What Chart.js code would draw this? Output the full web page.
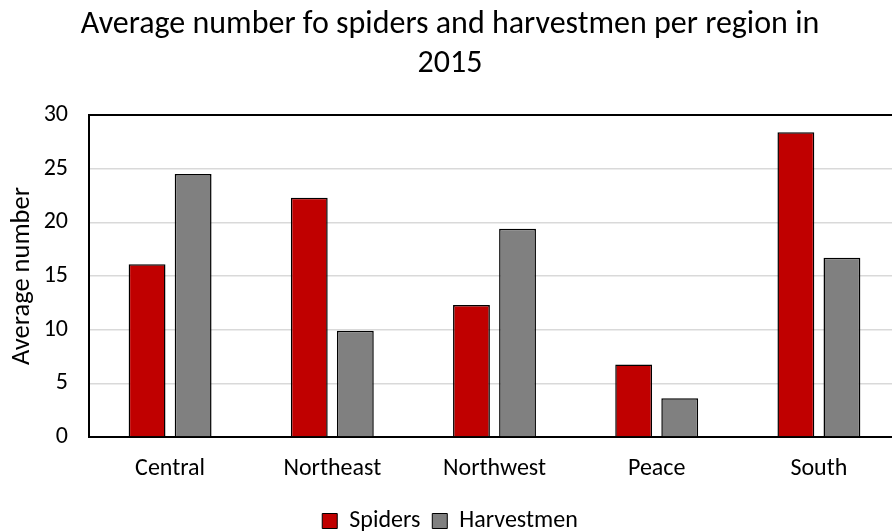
<!DOCTYPE html>
<html>
<head>
<meta charset="utf-8">
<script src="https://cdn.jsdelivr.net/npm/chart.js@4.4.0/dist/chart.umd.min.js"></script>
<style>
  html, body { margin: 0; padding: 0; background: #fff; overflow: hidden; }
  #wrap { width: 892px; height: 531px; overflow: hidden; }
</style>
</head>
<body>
<div id="wrap"><canvas id="chart" width="900" height="531"></canvas></div>
<script>
// data
var regions = ["Central", "Northeast", "Northwest", "Peace", "South"]
var spiders = [16.1, 22.3, 12.3, 6.75, 28.4]
var harvestmen = [24.5, 9.9, 19.4, 3.6, 16.7]
var titleLines = ["Average number fo spiders and harvestmen per region in", "2015"]
var yTitle = "Average number"

var fontFamily = "Carlito, 'Open Sans', sans-serif"

new Chart("chart", {
  type: "bar",
  data: {
    labels: regions,
    datasets: [
      {label: "Spiders", data: spiders, backgroundColor: "#C00000", borderColor: "#000", borderWidth: 1.5,
       categoryPercentage: 0.568, barPercentage: 0.8},
      {label: "Harvestmen", data: harvestmen, backgroundColor: "#808080", borderColor: "#000", borderWidth: 1.5,
       categoryPercentage: 0.568, barPercentage: 0.8}
    ]
  },
  options: {
    responsive: false,
    animation: false,
    devicePixelRatio: 1,
    // legend sits lower in the original, so pull the bottom edge past the canvas a bit
    layout: {padding: {left: 0, right: 0, top: 0, bottom: -12}},
    plugins: {
      title: {
        display: true,
        text: titleLines,
        color: "#000",
        font: {family: fontFamily, size: 32, weight: "normal", lineHeight: 1.22},
        padding: {top: 5.5, bottom: 31.5}
      },
      legend: {
        position: "bottom",
        labels: {
          color: "#000",
          font: {family: fontFamily, size: 24},
          boxWidth: 15, boxHeight: 15, padding: 12,
          generateLabels: function(chart) {
            return chart.data.datasets.map(function(ds, i) {
              return {text: ds.label, fillStyle: ds.backgroundColor, strokeStyle: "#000",
                      lineWidth: 1, datasetIndex: i, fontColor: "#000"}
            })
          }
        }
      },
      tooltip: {enabled: false}
    },
    scales: {
      x: {
        grid: {display: false},
        border: {color: "#000", width: 2},
        ticks: {color: "#000", font: {family: fontFamily, size: 24}, padding: 10},
        afterFit: function(scale) { scale.height = 60 }
      },
      y: {
        min: 0, max: 30,
        ticks: {stepSize: 5, color: "#000", font: {family: fontFamily, size: 24}, padding: 21},
        grid: {
          drawTicks: false,
          color: function(ctx) { return ctx.tick && ctx.tick.value === 30 ? "#000" : "#d9d9d9" },
          lineWidth: function(ctx) { return ctx.tick && ctx.tick.value === 30 ? 2 : 1.5 }
        },
        border: {color: "#000", width: 2},
        title: {display: true, text: yTitle, color: "#000",
                font: {family: fontFamily, size: 26.5}, padding: {top: 6, bottom: 0}},
        afterFit: function(scale) { scale.width = 89 }
      }
    }
  }
});
</script>
</body>
</html>
